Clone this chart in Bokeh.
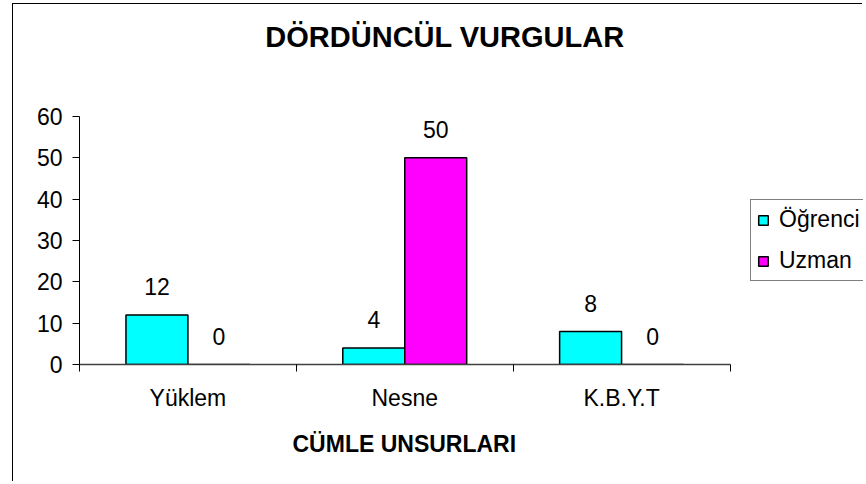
from bokeh.plotting import figure
from bokeh.models import Range1d, FixedTicker, Legend, LegendItem, Title, Label
from bokeh.embed import file_html
from bokeh.resources import INLINE
from bokeh.core.properties import value

# ---- data ----
categories = ["Yüklem", "Nesne", "K.B.Y.T"]
series_names = ["Öğrenci", "Uzman"]
ogrenci = [12, 4, 8]
uzman = [0, 50, 0]
y_ticks = [0, 10, 20, 30, 40, 50, 60]
title_text = "DÖRDÜNCÜL VURGULAR"
x_title = "CÜMLE UNSURLARI"

FONT = "Liberation Sans"
colors = ["#00FFFF", "#FF00FF"]

# ---- layout (pixels) ----
W, H = 850, 478
LEFT, BOTTOM_PANEL = 66, 118
AXIS_PX_X = 650.5                    # drawn length of the category axis
AXIS_PX_Y = 248.0                    # drawn length of the value axis
frame_w = W - LEFT
frame_h = H - BOTTOM_PANEL
n = len(categories)
# the frame fills the top and right of the chart (title and legend live there);
# the axes themselves are limited with bounds
x_end = n * frame_w / AXIS_PX_X
y_end = y_ticks[-1] * frame_h / AXIS_PX_Y

bar_w = 1.0 / 3.5
centers = [i + 0.5 for i in range(n)]
x_og = [c - bar_w / 2 for c in centers]
x_uz = [c + bar_w / 2 for c in centers]

p = figure(width=W, height=H, output_backend="svg", toolbar_location=None,
           x_range=Range1d(0, x_end), y_range=Range1d(y_ticks[0], y_end),
           min_border_left=LEFT, min_border_right=0, min_border_top=0,
           min_border_bottom=BOTTOM_PANEL, title=None)
p.margin = (3, 0, 0, 12)
p.styles = {"border-left": "1px solid black", "border-top": "1px solid black"}
p.outline_line_color = None
p.xgrid.visible = False
p.ygrid.visible = False
p.background_fill_color = "white"
p.border_fill_color = "white"

title = Label(text=title_text, x=365.5, y=328, x_units="screen", y_units="screen",
              text_font=FONT, text_font_size="29px", text_font_style="bold",
              text_align="center", text_baseline="alphabetic", text_color="black")
p.add_layout(title)

r1 = p.vbar(x=x_og, top=ogrenci, width=bar_w, fill_color=colors[0],
            line_color="black", line_width=1.5)
r2 = p.vbar(x=x_uz, top=uzman, width=bar_w, fill_color=colors[1],
            line_color="black", line_width=1.5)

# data labels
p.text(x=x_og + x_uz, y=ogrenci + uzman, text=[str(v) for v in ogrenci + uzman],
       text_font=value(FONT), text_font_size="23px", text_color="black",
       text_align="center", text_baseline="alphabetic", y_offset=-28)

# y axis
ya = p.yaxis[0]
ya.bounds = (y_ticks[0], y_ticks[-1])
ya.ticker = FixedTicker(ticks=y_ticks)
ya.major_tick_out = 7
ya.major_tick_in = 0
ya.minor_tick_out = 0
ya.minor_tick_in = 0
ya.axis_line_color = "black"
ya.major_tick_line_color = "black"
ya.major_label_text_font = FONT
ya.major_label_text_font_size = "23px"
ya.major_label_text_color = "black"
ya.major_label_standoff = 10

# x axis
xa = p.xaxis[0]
xa.bounds = (0, n)
xa.ticker = FixedTicker(ticks=centers, minor_ticks=list(range(n + 1)))
xa.major_label_overrides = {c: lab for c, lab in zip(centers, categories)}
xa.major_tick_out = 0
xa.major_tick_in = 0
xa.minor_tick_out = 7
xa.minor_tick_in = 0
xa.minor_tick_line_color = "black"
xa.axis_line_color = "#404040"
xa.axis_line_width = 1.5
xa.major_label_text_font = FONT
xa.major_label_text_font_size = "23px"
xa.major_label_text_color = "black"
xa.major_label_standoff = 13

xt = Title(text=x_title, text_font=FONT, text_font_size="23px",
           text_font_style="bold", align="left", offset=213, standoff=30,
           text_color="black")
p.add_layout(xt, "below")

legend = Legend(items=[LegendItem(label=series_names[0], renderers=[r1]),
                       LegendItem(label=series_names[1], renderers=[r2])],
                location=(671, 83), margin=0, padding=6, spacing=14,
                glyph_width=12, glyph_height=12, label_standoff=10,
                label_height=26, label_text_font=FONT,
                label_text_font_size="23px", label_text_color="black",
                border_line_color="black", border_line_width=1,
                background_fill_color="white", background_fill_alpha=1)
p.add_layout(legend, "center")

open("out.html", "w").write(file_html(p, INLINE))
